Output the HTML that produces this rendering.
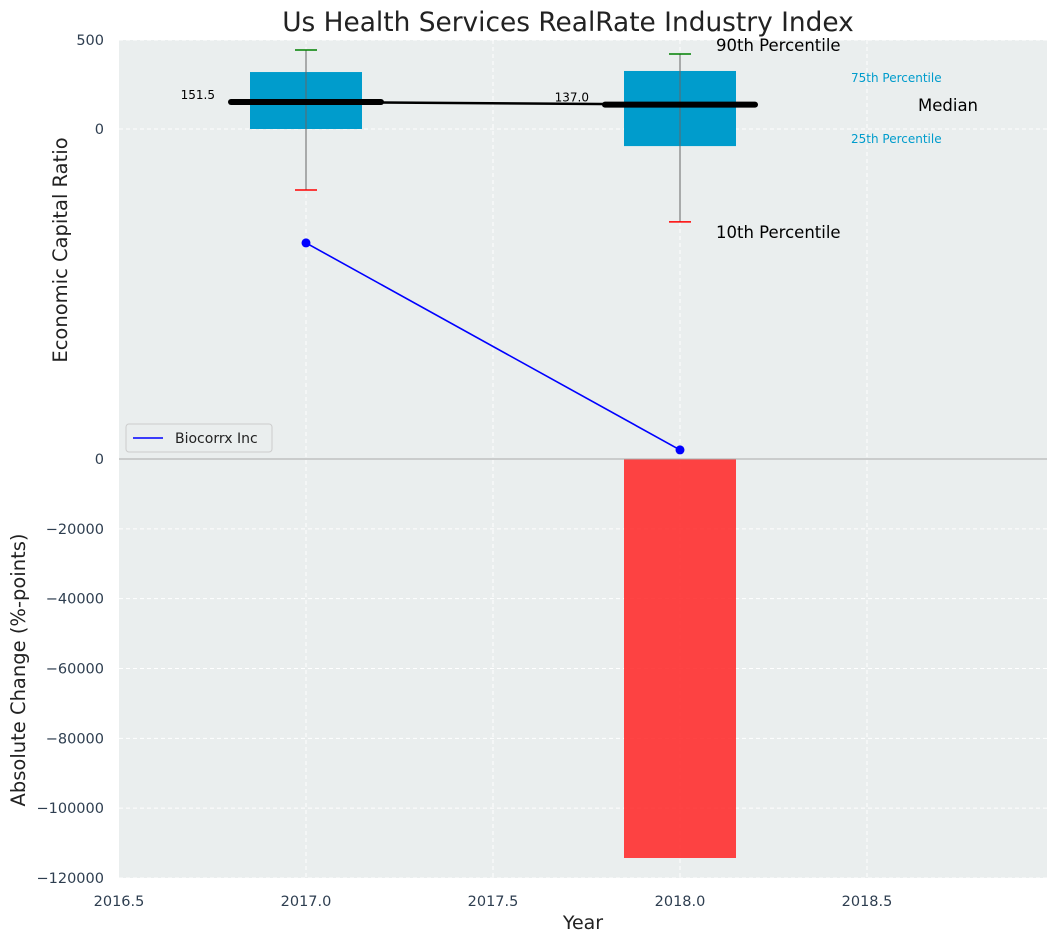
<!DOCTYPE html>
<html><head><meta charset="utf-8"><style>
body{margin:0;background:#fff;}
svg{display:block;font-family:"DejaVu Sans","Liberation Sans",sans-serif;}
</style></head><body>
<svg id="chart" width="1058" height="942" viewBox="0 0 1058 942"></svg>
<script>
const years = [2017, 2018];
const q1 = [0, -96];
const q3 = [320, 326];
const p90 = [444, 421];
const p10 = [-343, -522];
const medians = [151.5, 137.0];
const companyValues = [-640, -1803];
const changeValues = [null, -114270];
const topTicks = [500, 0];
const bottomTicks = [0, -20000, -40000, -60000, -80000, -100000, -120000];
const xTicks = [2016.5, 2017.0, 2017.5, 2018.0, 2018.5];

const NS = "http://www.w3.org/2000/svg";
const svg = document.getElementById('chart');
function mk(tag, attrs, parent, text){
  const e = document.createElementNS(NS, tag);
  for (const k in attrs) e.setAttribute(k, attrs[k]);
  if (text !== undefined) e.textContent = text;
  (parent || svg).appendChild(e);
  return e;
}
const L = 119, R = 1047;
const x = v => L + (v - 2016.5) * 374;
const yTop = v => 129 - v * 89 / 500;
const yBot = v => 459 - v * (419 / 120000);

let e;
e = mk('rect', {x: L, y: 40, width: R - L, height: 419, fill: '#eaeeee'});


e = mk('rect', {x: L, y: 459, width: R - L, height: 419, fill: '#eaeeee'});



xTicks.forEach(t => {
  if (t === 2016.5) return;
  e = mk('line', {x1: x(t), x2: x(t), y1: 40, y2: 878, stroke: '#fff', 'stroke-dasharray': '4,3', 'stroke-width': 1});
  
  
});
topTicks.forEach(t => {
  e = mk('line', {x1: L, x2: R, y1: yTop(t), y2: yTop(t), stroke: '#fff', 'stroke-dasharray': '4,3'});
  
  
  e = mk('text', {x: 104, y: yTop(t) + 5, 'text-anchor': 'end', 'font-size': 14.5, fill: '#2e3e50'}, svg, String(t));
  
  
});
bottomTicks.forEach(t => {
  if (t !== 0) {
    e = mk('line', {x1: L, x2: R, y1: yBot(t), y2: yBot(t), stroke: '#fff', 'stroke-dasharray': '4,3'});
    
    
  }
  e = mk('text', {x: 104, y: yBot(t) + 5, 'text-anchor': 'end', 'font-size': 14.5, fill: '#2e3e50'}, svg, String(t).replace('-', '\u2212'));
  
  
});
xTicks.forEach(t => {
  e = mk('text', {x: x(t), y: 906, 'text-anchor': 'middle', 'font-size': 14.5, fill: '#2e3e50'}, svg, t.toFixed(1));
  
  
});

changeValues.forEach((v, i) => {
  if (v === null) return;
  e = mk('rect', {x: x(years[i]) - 56, y: yBot(0), width: 112, height: yBot(v) - yBot(0), fill: '#ff2a2a', 'fill-opacity': 0.88});
  
  
});
e = mk('line', {x1: L, x2: R, y1: 459, y2: 459, stroke: '#aaa', 'stroke-width': 1});



years.forEach((yr, i) => {
  const cx = x(yr);
  e = mk('rect', {x: cx - 56, y: yTop(q3[i]), width: 112, height: yTop(q1[i]) - yTop(q3[i]), fill: '#009ccc'});
  
  
  e = mk('line', {x1: cx, x2: cx, y1: yTop(p90[i]), y2: yTop(p10[i]), stroke: '#666', 'stroke-width': 1});
  
  
  e = mk('line', {x1: cx - 11, x2: cx + 11, y1: yTop(p90[i]), y2: yTop(p90[i]), stroke: 'green', 'stroke-width': 1.5});
  
  
  e = mk('line', {x1: cx - 11, x2: cx + 11, y1: yTop(p10[i]), y2: yTop(p10[i]), stroke: 'red', 'stroke-width': 1.5});
  
  
});
e = mk('line', {x1: x(years[0]), y1: yTop(medians[0]), x2: x(years[1]), y2: yTop(medians[1]), stroke: '#000', 'stroke-width': 2.5});


years.forEach((yr, i) => {
  const cx = x(yr);
  e = mk('line', {x1: cx - 75, x2: cx + 75, y1: yTop(medians[i]), y2: yTop(medians[i]), stroke: '#000', 'stroke-width': 6, 'stroke-linecap': 'round'});
  
  
  e = mk('text', {x: cx - 91, y: yTop(medians[i]) - 3, 'text-anchor': 'end', 'font-size': 12, fill: '#000'}, svg, medians[i].toFixed(1));
  
  
});

const pts = years.map((yr, i) => x(yr) + ',' + yTop(companyValues[i])).join(' ');
e = mk('polyline', {points: pts, fill: 'none', stroke: '#0000ff', 'stroke-width': 1.6});


years.forEach((yr, i) => {
  e = mk('circle', {cx: x(yr), cy: yTop(companyValues[i]), r: 4.5, fill: '#0000ff'});
  
  
});

const ann = [
  ['90th Percentile', 716, 51, 16.5, '#000', 'p90-annotation'],
  ['10th Percentile', 716, 238, 16.5, '#000', 'p10-annotation'],
  ['75th Percentile', 851, 82, 12, '#009ccc', 'p75-annotation'],
  ['25th Percentile', 851, 143, 12, '#009ccc', 'p25-annotation'],
  ['Median', 918, 111, 16.5, '#000', 'median-annotation']
];
ann.forEach(a => {
  e = mk('text', {x: a[1], y: a[2], 'font-size': a[3], fill: a[4]}, svg, a[0]);
  
  
});

const lg = mk('g', {});


mk('rect', {x: 126, y: 424, width: 146, height: 28, rx: 3, fill: '#eaeeee', stroke: '#ccc'}, lg);
mk('line', {x1: 133, x2: 163, y1: 438, y2: 438, stroke: '#0000ff', 'stroke-width': 1.6}, lg);
mk('text', {x: 175, y: 443, 'font-size': 14, fill: '#222'}, lg, 'Biocorrx Inc');

e = mk('text', {x: 568, y: 31, 'text-anchor': 'middle', 'font-size': 26.4, fill: '#222'}, svg, 'Us Health Services RealRate Industry Index');


e = mk('text', {x: 583, y: 929, 'text-anchor': 'middle', 'font-size': 19, fill: '#222'}, svg, 'Year');


e = mk('text', {x: 0, y: 0, 'text-anchor': 'middle', 'font-size': 19.5, fill: '#222', transform: 'translate(67,250) rotate(-90)'}, svg, 'Economic Capital Ratio');


e = mk('text', {x: 0, y: 0, 'text-anchor': 'middle', 'font-size': 19.5, fill: '#222', transform: 'translate(25,670) rotate(-90)'}, svg, 'Absolute Change (%-points)');


</script>
</body></html>
